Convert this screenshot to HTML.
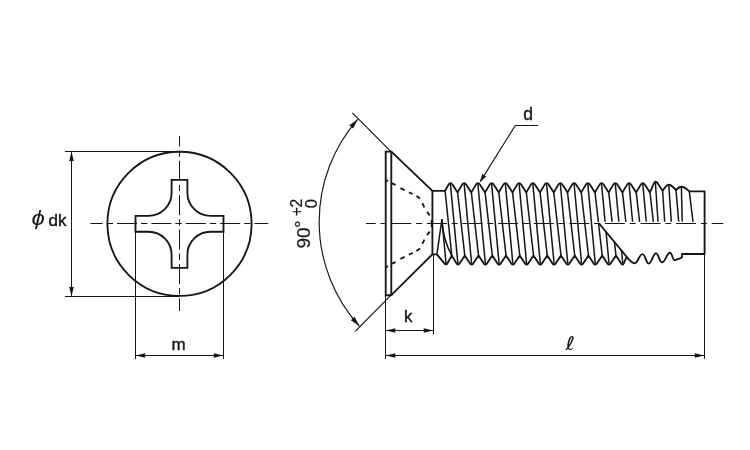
<!DOCTYPE html>
<html lang="ja">
<head>
<meta charset="utf-8">
<title>Screw drawing</title>
<style>html,body{margin:0;padding:0;background:#fff;}body{width:750px;height:450px;overflow:hidden;}svg{display:block;}</style>
</head>
<body>
<svg width="750" height="450" viewBox="0 0 750 450">
<g fill="none" stroke="#161616" stroke-linecap="butt">
<circle cx="179.5" cy="223.8" r="72.1" stroke-width="1.85"/>
<path d="M171.60,179.80 L187.40,179.80 L187.40,192.80 A23.1,23.1 0 0 0 210.50,215.90 L223.50,215.90 L223.50,231.70 L210.50,231.70 A23.1,23.1 0 0 0 187.40,254.80 L187.40,267.80 L171.60,267.80 L171.60,254.80 A23.1,23.1 0 0 0 148.50,231.70 L135.50,231.70 L135.50,215.90 L148.50,215.90 A23.1,23.1 0 0 0 171.60,192.80 Z" stroke-width="1.85" stroke-linejoin="miter"/>
<line x1="90.40" y1="223.50" x2="268.30" y2="223.50" stroke-width="1.0" stroke-dasharray="20 4 6.4 4" stroke-dashoffset="7.8"/>
<line x1="179.50" y1="136.00" x2="179.50" y2="311.00" stroke-width="1.0" stroke-dasharray="20 4 6.4 4" stroke-dashoffset="9.6"/>
<line x1="65.00" y1="151.50" x2="179.00" y2="151.50" stroke-width="1.0" />
<line x1="65.00" y1="296.50" x2="179.00" y2="296.50" stroke-width="1.0" />
<line x1="71.50" y1="152.00" x2="71.50" y2="296.00" stroke-width="1.0" />
<polygon points="71.50,151.60 73.80,161.10 69.20,161.10" fill="#161616" stroke="none"/>
<polygon points="71.50,296.40 69.20,286.90 73.80,286.90" fill="#161616" stroke="none"/>
<line x1="135.50" y1="223.60" x2="135.50" y2="359.00" stroke-width="1.0" />
<line x1="223.50" y1="223.60" x2="223.50" y2="359.00" stroke-width="1.0" />
<line x1="135.50" y1="355.50" x2="223.50" y2="355.50" stroke-width="1.0" />
<polygon points="135.70,355.50 145.20,353.20 145.20,357.80" fill="#161616" stroke="none"/>
<polygon points="223.30,355.50 213.80,357.80 213.80,353.20" fill="#161616" stroke="none"/>
<path d="M391.3,151.6 L385.7,151.6 L385.7,295.2 L391.3,295.2" stroke-width="1.85" stroke-linejoin="miter"/>
<line x1="391.30" y1="150.80" x2="391.30" y2="296.00" stroke-width="1.85" />
<path d="M391.3,151.6 L432.4,190.8 L445.1,190.8" stroke-width="1.85" stroke-linejoin="miter"/>
<path d="M391.3,295.2 L432.4,254.3 L436.9,254.3" stroke-width="1.85" stroke-linejoin="miter"/>
<line x1="432.40" y1="190.80" x2="432.40" y2="254.30" stroke-width="1.85" />
<line x1="385.70" y1="180.70" x2="388.20" y2="180.70" stroke-width="1.8" />
<line x1="385.70" y1="266.60" x2="388.20" y2="266.60" stroke-width="1.8" />
<line x1="391.90" y1="183.30" x2="395.60" y2="184.90" stroke-width="1.8" />
<line x1="391.90" y1="263.70" x2="395.60" y2="262.10" stroke-width="1.8" />
<line x1="400.40" y1="188.10" x2="404.70" y2="190.10" stroke-width="1.8" />
<line x1="400.40" y1="258.90" x2="404.70" y2="256.90" stroke-width="1.8" />
<line x1="408.90" y1="192.40" x2="412.70" y2="194.00" stroke-width="1.8" />
<line x1="408.90" y1="254.60" x2="412.70" y2="253.00" stroke-width="1.8" />
<line x1="416.40" y1="196.10" x2="420.10" y2="198.60" stroke-width="1.8" />
<line x1="416.40" y1="250.90" x2="420.10" y2="248.40" stroke-width="1.8" />
<line x1="422.30" y1="203.10" x2="424.40" y2="207.40" stroke-width="1.8" />
<line x1="422.30" y1="243.90" x2="424.40" y2="239.60" stroke-width="1.8" />
<line x1="427.10" y1="211.90" x2="429.70" y2="215.40" stroke-width="1.8" />
<line x1="427.10" y1="235.10" x2="429.70" y2="231.60" stroke-width="1.8" />
<line x1="431.70" y1="219.80" x2="431.70" y2="227.20" stroke-width="1.8" />
<path d="M445.10,190.80 L448.39,184.90 Q450.40,181.30 452.74,184.90 L457.60,192.40 L462.02,184.90 Q464.14,181.30 466.48,184.90 L471.34,192.40 L475.76,184.90 Q477.88,181.30 480.22,184.90 L485.08,192.40 L489.50,184.90 Q491.62,181.30 493.96,184.90 L498.82,192.40 L503.24,184.90 Q505.36,181.30 507.70,184.90 L512.56,192.40 L516.98,184.90 Q519.10,181.30 521.44,184.90 L526.30,192.40 L530.72,184.90 Q532.84,181.30 535.18,184.90 L540.04,192.40 L544.46,184.90 Q546.58,181.30 548.92,184.90 L553.78,192.40 L558.20,184.90 Q560.32,181.30 562.66,184.90 L567.52,192.40 L571.94,184.90 Q574.06,181.30 576.40,184.90 L581.26,192.40 L585.68,184.90 Q587.80,181.30 590.14,184.90 L595.00,192.40 L599.42,184.90 Q601.54,181.30 603.88,184.90 L608.74,192.40 L613.16,184.90 Q615.28,181.30 617.62,184.90 L622.48,192.40 L626.90,184.90 Q629.02,181.30 631.36,184.90 L636.22,192.40 L640.64,184.90 Q642.76,181.30 645.10,184.90 L649.96,192.40 L653.83,183.50 Q655.40,179.90 657.80,183.50 L662.60,190.70 L665.94,186.50 Q668.80,182.90 672.45,186.50 L676.00,190.00 L677.59,188.50 Q681.40,184.90 685.84,188.50 L689.30,191.30 L704.60,191.30 L704.60,254.00 L682.00,254.00 L682.00,257.30 Q679.5,259.0 674.7,260.2 C672.73,260.20 671.97,252.70 670.00,252.70 C666.64,252.70 665.36,262.40 662.00,262.40 C659.48,262.40 658.52,253.30 656.00,253.30 C652.93,253.30 651.77,263.60 648.70,263.60 C646.14,263.60 645.16,254.10 642.60,254.10 C639.20,254.10 637.90,263.40 634.50,263.40 Q631.0,262.5 626.5,256.6 L598.7,223.0" stroke-width="1.85" stroke-linejoin="round"/>
<path d="M436.90,254.30 L444.15,263.20 Q446.10,265.60 447.47,263.20 L451.80,255.60 L456.46,263.40 Q457.90,265.80 459.49,263.40 L464.80,255.40 L470.06,263.40 Q471.64,265.80 473.23,263.40 L478.54,255.40 L483.80,263.40 Q485.38,265.80 486.97,263.40 L492.28,255.40 L497.54,263.40 Q499.12,265.80 500.71,263.40 L506.02,255.40 L511.28,263.40 Q512.86,265.80 514.45,263.40 L519.76,255.40 L525.02,263.40 Q526.60,265.80 528.19,263.40 L533.50,255.40 L538.76,263.40 Q540.34,265.80 541.93,263.40 L547.24,255.40 L552.50,263.40 Q554.08,265.80 555.67,263.40 L560.98,255.40 L566.24,263.40 Q567.82,265.80 569.41,263.40 L574.72,255.40 L579.98,263.40 Q581.56,265.80 583.15,263.40 L588.46,255.40 L593.72,263.40 Q595.30,265.80 596.89,263.40 L602.20,255.40 L607.46,263.40 Q609.04,265.80 610.63,263.40 L615.94,255.40 L621.20,263.40 Q622.78,265.80 623.81,263.40 L626.70,256.70" stroke-width="1.85" stroke-linejoin="round"/>
<line x1="445.10" y1="190.80" x2="451.80" y2="255.60" stroke-width="1.5" />
<line x1="450.40" y1="183.90" x2="457.90" y2="263.80" stroke-width="1.5" />
<line x1="464.14" y1="183.90" x2="471.64" y2="263.80" stroke-width="1.5" />
<line x1="477.88" y1="183.90" x2="485.38" y2="263.80" stroke-width="1.5" />
<line x1="491.62" y1="183.90" x2="499.12" y2="263.80" stroke-width="1.5" />
<line x1="505.36" y1="183.90" x2="512.86" y2="263.80" stroke-width="1.5" />
<line x1="519.10" y1="183.90" x2="526.60" y2="263.80" stroke-width="1.5" />
<line x1="532.84" y1="183.90" x2="540.34" y2="263.80" stroke-width="1.5" />
<line x1="546.58" y1="183.90" x2="554.08" y2="263.80" stroke-width="1.5" />
<line x1="560.32" y1="183.90" x2="567.82" y2="263.80" stroke-width="1.5" />
<line x1="574.06" y1="183.90" x2="581.56" y2="263.80" stroke-width="1.5" />
<line x1="587.80" y1="183.90" x2="595.30" y2="263.80" stroke-width="1.5" />
<line x1="601.54" y1="183.90" x2="605.10" y2="221.80" stroke-width="1.5" />
<line x1="606.04" y1="231.80" x2="609.04" y2="263.80" stroke-width="1.5" />
<line x1="615.28" y1="183.90" x2="618.84" y2="221.80" stroke-width="1.5" />
<line x1="621.52" y1="250.37" x2="622.78" y2="263.80" stroke-width="1.5" />
<line x1="629.02" y1="183.90" x2="632.58" y2="221.80" stroke-width="1.5" />
<line x1="642.76" y1="183.90" x2="646.32" y2="221.80" stroke-width="1.5" />
<line x1="457.60" y1="192.40" x2="464.80" y2="255.40" stroke-width="1.5" />
<line x1="471.34" y1="192.40" x2="478.54" y2="255.40" stroke-width="1.5" />
<line x1="485.08" y1="192.40" x2="492.28" y2="255.40" stroke-width="1.5" />
<line x1="498.82" y1="192.40" x2="506.02" y2="255.40" stroke-width="1.5" />
<line x1="512.56" y1="192.40" x2="519.76" y2="255.40" stroke-width="1.5" />
<line x1="526.30" y1="192.40" x2="533.50" y2="255.40" stroke-width="1.5" />
<line x1="540.04" y1="192.40" x2="547.24" y2="255.40" stroke-width="1.5" />
<line x1="553.78" y1="192.40" x2="560.98" y2="255.40" stroke-width="1.5" />
<line x1="567.52" y1="192.40" x2="574.72" y2="255.40" stroke-width="1.5" />
<line x1="581.26" y1="192.40" x2="588.46" y2="255.40" stroke-width="1.5" />
<line x1="595.00" y1="192.40" x2="598.36" y2="221.80" stroke-width="1.5" />
<line x1="598.46" y1="222.72" x2="602.20" y2="255.40" stroke-width="1.5" />
<line x1="608.74" y1="192.40" x2="612.10" y2="221.80" stroke-width="1.5" />
<line x1="614.39" y1="241.81" x2="615.94" y2="255.40" stroke-width="1.5" />
<line x1="622.48" y1="192.40" x2="625.84" y2="221.80" stroke-width="1.5" />
<line x1="636.22" y1="192.40" x2="639.58" y2="221.80" stroke-width="1.5" />
<line x1="649.96" y1="192.40" x2="653.32" y2="221.80" stroke-width="1.5" />
<line x1="655.40" y1="182.50" x2="658.00" y2="221.80" stroke-width="1.5" />
<line x1="662.60" y1="190.70" x2="664.70" y2="221.80" stroke-width="1.5" />
<line x1="668.80" y1="185.50" x2="671.30" y2="221.80" stroke-width="1.5" />
<line x1="676.00" y1="190.00" x2="678.70" y2="221.80" stroke-width="1.5" />
<line x1="681.40" y1="187.50" x2="682.20" y2="221.80" stroke-width="1.5" />
<line x1="689.30" y1="191.30" x2="693.00" y2="221.80" stroke-width="1.5" />
<path d="M436.9,254.3 L441.9,219.4 L446.1,264.0" stroke-width="1.5" stroke-linejoin="miter"/>
<path d="M441.9,219.4 Q442.9,240 452.0,255.8" stroke-width="1.5" />
<line x1="366.00" y1="223.50" x2="723.30" y2="223.50" stroke-width="1.0" stroke-dasharray="20 4.8 6 4.8" stroke-dashoffset="10.3"/>
<line x1="391.00" y1="151.60" x2="352.40" y2="112.90" stroke-width="1.2" />
<line x1="391.00" y1="295.20" x2="355.30" y2="331.30" stroke-width="1.2" />
<path d="M357.7,119.3 A155.5,155.5 0 0 0 359.3,326.0" stroke-width="1.15" />
<polygon points="357.70,119.30 353.13,128.54 349.32,125.30" fill="#161616" stroke="none"/>
<polygon points="359.30,326.00 350.82,320.13 354.58,316.83" fill="#161616" stroke="none"/>
<line x1="385.50" y1="295.20" x2="385.50" y2="359.00" stroke-width="1.0" />
<line x1="433.50" y1="254.30" x2="433.50" y2="334.50" stroke-width="1.0" />
<line x1="385.50" y1="330.50" x2="433.50" y2="330.50" stroke-width="1.0" />
<polygon points="385.80,330.50 395.30,328.20 395.30,332.80" fill="#161616" stroke="none"/>
<polygon points="433.20,330.50 423.70,332.80 423.70,328.20" fill="#161616" stroke="none"/>
<line x1="704.50" y1="254.00" x2="704.50" y2="358.80" stroke-width="1.0" />
<line x1="385.50" y1="355.50" x2="704.50" y2="355.50" stroke-width="1.0" />
<polygon points="385.80,355.50 395.30,353.20 395.30,357.80" fill="#161616" stroke="none"/>
<polygon points="704.20,355.50 694.70,357.80 694.70,353.20" fill="#161616" stroke="none"/>
<path d="M538.3,125.5 L515.3,125.5 L480.4,181.4" stroke-width="1.15" stroke-linejoin="miter"/>
<polygon points="479.70,182.50 482.19,174.03 486.26,176.58" fill="#161616" stroke="none"/>
</g>
<g fill="#161616" stroke="#161616" stroke-width="0.4" stroke-linejoin="round" opacity="0.999">
<text transform="translate(31.6,224.9) scale(1.2,1)" font-size="20" font-style="italic" stroke="none" font-family="'Liberation Sans', sans-serif">ϕ</text>
<text x="48.6" y="225.6" font-size="17" font-family="'Liberation Sans', sans-serif">dk</text>
<text x="171.4" y="349.6" font-size="17" font-family="'Liberation Sans', sans-serif">m</text>
<text x="404.0" y="322.4" font-size="17" font-family="'Liberation Sans', sans-serif">k</text>
<text x="523.3" y="119.7" font-size="17.5" font-family="'Liberation Sans', sans-serif">d</text>
<text transform="translate(565.6,349.6) scale(1.2,1)" font-size="19" font-style="italic" stroke="none" font-family="'DejaVu Sans', 'Liberation Sans', sans-serif">ℓ</text>
<text transform="translate(310.3,248.6) rotate(-90)" font-size="19" stroke-width="0.2" font-family="'Liberation Sans', sans-serif">90</text>
<text transform="translate(308.4,227.9) rotate(-90)" font-size="19" stroke-width="0.2" font-family="'Liberation Sans', sans-serif">°</text>
<text transform="translate(301.6,216.2) rotate(-90)" font-size="15.6" letter-spacing="-0.3" stroke-width="0.2" font-family="'Liberation Sans', sans-serif">+2</text>
<text transform="translate(317.2,208.3) rotate(-90)" font-size="16.5" stroke-width="0.2" font-family="'Liberation Sans', sans-serif">0</text>
</g>
</svg>
</body>
</html>
